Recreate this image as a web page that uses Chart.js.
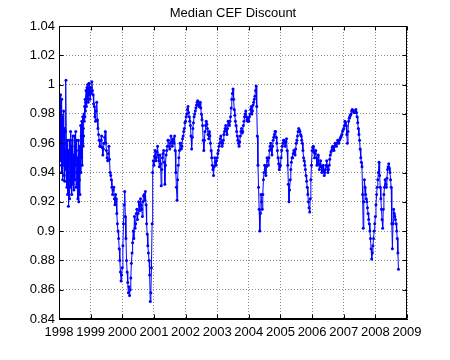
<!DOCTYPE html>
<html>
<head>
<meta charset="utf-8">
<script src="https://cdn.jsdelivr.net/npm/chart.js@4/dist/chart.umd.min.js"></script>
<style>
    body { margin: 0; background: #fff; }
    canvas { display: block; }
</style>
</head>
<body>
<canvas id="chart" width="450" height="360"></canvas>
<script>
const chartTitle = 'Median CEF Discount';

// ticks
const xTicks = [1998, 1999, 2000, 2001, 2002, 2003, 2004, 2005, 2006, 2007, 2008, 2009];
const yTicks = [0.84, 0.86, 0.88, 0.90, 0.92, 0.94, 0.96, 0.98, 1.00, 1.02, 1.04];

// samples are spread evenly over each year (1998 twice a week, later years weekly)
const years = [1998, 1999, 2000, 2001, 2002, 2003, 2004, 2005, 2006, 2007, 2008];
const samplesPerYear = [104, 52, 52, 52, 52, 52, 52, 52, 52, 52, 52];

const d1998 = [0.950, 0.972, 0.945, 0.985, 0.962, 0.993, 0.948, 0.975, 0.940, 0.990,
    0.958, 0.978, 0.935, 0.965, 0.945, 0.982, 0.952, 0.938, 0.970, 0.934,
    0.955, 0.968, 0.942, 1.003, 0.960, 0.950, 0.930, 0.962, 0.925, 0.945,
    0.955, 0.917, 0.948, 0.935, 0.962, 0.922, 0.950, 0.940, 0.968, 0.930,
    0.958, 0.938, 0.925, 0.962, 0.945, 0.932, 0.965, 0.940, 0.952, 0.928,
    0.950, 0.965, 0.935, 0.958, 0.945, 0.968, 0.930, 0.955, 0.940, 0.962,
    0.932, 0.950, 0.922, 0.948, 0.962, 0.920, 0.945, 0.935, 0.958, 0.925,
    0.955, 0.972, 0.940, 0.965, 0.950, 0.975, 0.945, 0.962, 0.978, 0.958,
    0.970, 0.965, 0.980, 0.975, 0.985, 0.978, 0.990, 0.982, 0.988, 0.996,
    0.985, 0.992, 0.998, 0.990, 1.000, 0.994, 0.988, 0.997, 0.995, 1.001, 0.993, 0.998, 0.990, 0.996];
const d1999 = [0.998, 0.994, 1.002, 0.996, 0.993, 0.987, 0.985, 0.978, 0.975, 0.982,
    0.988, 0.976, 0.970, 0.966, 0.962, 0.958, 0.958, 0.962, 0.965, 0.957,
    0.952, 0.956, 0.960, 0.964, 0.968, 0.960, 0.955, 0.950, 0.948, 0.953,
    0.958, 0.949, 0.940, 0.938, 0.935, 0.930, 0.925, 0.928, 0.930, 0.922,
    0.918, 0.925, 0.922, 0.912, 0.905, 0.900, 0.895, 0.888, 0.880, 0.872, 0.866, 0.870];
const d2000 = [0.875, 0.890, 0.905, 0.918, 0.927, 0.910, 0.895, 0.880, 0.872, 0.865,
    0.858, 0.862, 0.856, 0.860, 0.868, 0.878, 0.885, 0.892, 0.900, 0.895,
    0.910, 0.902, 0.905, 0.912, 0.915, 0.908, 0.912, 0.920, 0.918, 0.914,
    0.922, 0.918, 0.915, 0.910, 0.920, 0.924, 0.925, 0.921, 0.927, 0.918,
    0.905, 0.898, 0.890, 0.885, 0.880, 0.870, 0.852, 0.858, 0.875, 0.905, 0.940, 0.948];
const d2001 = [0.945, 0.951, 0.955, 0.948, 0.950, 0.954, 0.958, 0.952, 0.948, 0.944,
    0.952, 0.946, 0.931, 0.942, 0.950, 0.953, 0.955, 0.947, 0.932, 0.945,
    0.952, 0.955, 0.958, 0.962, 0.962, 0.958, 0.956, 0.960, 0.965, 0.961,
    0.958, 0.962, 0.963, 0.960, 0.965, 0.955, 0.940, 0.930, 0.921, 0.935,
    0.945, 0.950, 0.955, 0.960, 0.960, 0.956, 0.958, 0.963, 0.965, 0.968, 0.970, 0.974];
const d2002 = [0.975, 0.978, 0.980, 0.983, 0.985, 0.981, 0.978, 0.975, 0.972, 0.965,
    0.956, 0.964, 0.970, 0.974, 0.978, 0.980, 0.982, 0.984, 0.986, 0.988,
    0.989, 0.986, 0.985, 0.987, 0.988, 0.984, 0.980, 0.976, 0.972, 0.962,
    0.955, 0.962, 0.968, 0.972, 0.975, 0.973, 0.970, 0.966, 0.963, 0.968,
    0.965, 0.960, 0.955, 0.950, 0.945, 0.942, 0.938, 0.944, 0.950, 0.947, 0.945, 0.948];
const d2003 = [0.950, 0.953, 0.955, 0.958, 0.960, 0.963, 0.965, 0.961, 0.958, 0.960,
    0.962, 0.966, 0.968, 0.970, 0.972, 0.969, 0.966, 0.970, 0.975, 0.973,
    0.972, 0.975, 0.978, 0.984, 0.990, 0.994, 0.997, 0.990, 0.983, 0.979,
    0.975, 0.972, 0.968, 0.965, 0.962, 0.960, 0.958, 0.961, 0.965, 0.968,
    0.970, 0.967, 0.968, 0.972, 0.975, 0.978, 0.980, 0.982, 0.978, 0.976, 0.975, 0.977];
const d2004 = [0.975, 0.978, 0.980, 0.983, 0.985, 0.980, 0.982, 0.986, 0.988, 0.990,
    0.992, 0.996, 0.999, 0.985, 0.965, 0.945, 0.930, 0.915, 0.900, 0.912,
    0.925, 0.920, 0.915, 0.925, 0.935, 0.940, 0.945, 0.942, 0.938, 0.944,
    0.950, 0.948, 0.945, 0.950, 0.955, 0.958, 0.960, 0.956, 0.952, 0.958,
    0.962, 0.964, 0.966, 0.968, 0.968, 0.964, 0.960, 0.955, 0.950, 0.946, 0.942, 0.944];
const d2005 = [0.945, 0.950, 0.955, 0.958, 0.960, 0.962, 0.962, 0.960, 0.958, 0.961,
    0.963, 0.955, 0.945, 0.932, 0.920, 0.928, 0.935, 0.942, 0.947, 0.950,
    0.950, 0.953, 0.955, 0.954, 0.952, 0.956, 0.960, 0.962, 0.965, 0.968,
    0.970, 0.969, 0.968, 0.966, 0.965, 0.962, 0.960, 0.955, 0.950, 0.948,
    0.945, 0.942, 0.938, 0.934, 0.930, 0.925, 0.920, 0.916, 0.913, 0.922, 0.935, 0.945];
const d2006 = [0.955, 0.957, 0.958, 0.954, 0.950, 0.953, 0.955, 0.950, 0.945, 0.948,
    0.952, 0.946, 0.942, 0.945, 0.948, 0.944, 0.940, 0.943, 0.945, 0.941,
    0.938, 0.940, 0.942, 0.945, 0.948, 0.944, 0.940, 0.942, 0.945, 0.949,
    0.952, 0.954, 0.955, 0.957, 0.958, 0.956, 0.955, 0.958, 0.960, 0.959,
    0.958, 0.960, 0.962, 0.961, 0.960, 0.962, 0.963, 0.964, 0.965, 0.966, 0.968, 0.969];
const d2007 = [0.970, 0.972, 0.975, 0.974, 0.972, 0.966, 0.960, 0.968, 0.975, 0.977,
    0.978, 0.979, 0.980, 0.982, 0.983, 0.982, 0.982, 0.981, 0.981, 0.982,
    0.983, 0.981, 0.978, 0.974, 0.970, 0.966, 0.962, 0.956, 0.950, 0.947,
    0.944, 0.925, 0.902, 0.920, 0.935, 0.930, 0.925, 0.922, 0.920, 0.916,
    0.912, 0.908, 0.905, 0.900, 0.895, 0.888, 0.881, 0.885, 0.890, 0.895, 0.900, 0.905];
const d2008 = [0.910, 0.918, 0.925, 0.930, 0.935, 0.940, 0.947, 0.938, 0.930, 0.922,
    0.915, 0.908, 0.902, 0.915, 0.925, 0.930, 0.935, 0.932, 0.930, 0.936,
    0.942, 0.944, 0.946, 0.943, 0.940, 0.935, 0.930, 0.905, 0.888, 0.905,
    0.915, 0.912, 0.910, 0.908, 0.905, 0.900, 0.895, 0.885, 0.874];

const series = [d1998, d1999, d2000, d2001, d2002, d2003, d2004, d2005, d2006, d2007, d2008];

const FONT = 'Arial, "Liberation Sans", Helvetica, sans-serif';

var points = [];
years.forEach((yr, i) => {
    series[i].forEach((v, k) => {
        points.push({ x: yr + k / samplesPerYear[i], y: v });
    });
});

// MATLAB style box with inward ticks on all four sides, title centred over the axes
const boxPlugin = {
    id: 'box',
    afterDraw(chart) {
        const ctx = chart.ctx;
        const a = chart.chartArea;
        const xs = chart.scales.x;
        const ys = chart.scales.y;
        const L = Math.round(a.left) + 0.5, R = Math.round(a.right) - 0.5;
        const T = Math.round(a.top) + 0.5, B = Math.round(a.bottom) - 0.5;
        ctx.save();
        ctx.strokeStyle = '#000';
        ctx.lineWidth = 1;
        ctx.strokeRect(L, T, R - L, B - T);
        ctx.beginPath();
        xTicks.forEach(v => {
            const px = Math.round(xs.getPixelForValue(v)) + 0.5;
            ctx.moveTo(px, B); ctx.lineTo(px, B - 4);
            ctx.moveTo(px, T); ctx.lineTo(px, T + 4);
        });
        yTicks.forEach(v => {
            const py = Math.round(ys.getPixelForValue(v)) + 0.5;
            ctx.moveTo(L, py); ctx.lineTo(L + 4, py);
            ctx.moveTo(R, py); ctx.lineTo(R - 4, py);
        });
        ctx.stroke();

        ctx.fillStyle = '#000';
        ctx.font = '13px ' + FONT;
        ctx.textAlign = 'center';
        ctx.textBaseline = 'middle';
        ctx.fillText(chartTitle, (a.left + a.right) / 2, 13);
        ctx.restore();
    }
};

const config = {
    type: 'line',
    data: {
        datasets: [
            {
                label: chartTitle,
                data: points,
                borderColor: '#0000ff',
                backgroundColor: '#0000ff',
                borderWidth: 1,
                pointRadius: 1.5,
                pointBorderWidth: 0,
                pointBackgroundColor: '#0000ff',
                tension: 0
            }
        ]
    },
    options: {
        responsive: false,
        animation: false,
        layout: {
            padding: { left: 0, right: 43, top: 26, bottom: 0 }
        },
        plugins: {
            legend: { display: false },
            tooltip: { enabled: false },
            title: { display: false }
        },
        scales: {
            x: {
                type: 'linear',
                min: 1998,
                max: 2009,
                afterBuildTicks: (axis) => {
                    axis.ticks = xTicks.map(v => ({ value: v }));
                },
                afterFit: (axis) => {
                    axis.height = 41;
                },
                ticks: {
                    autoSkip: false,
                    maxRotation: 0,
                    color: '#000',
                    padding: 6,
                    font: { family: FONT, size: 13 },
                    callback: (v) => String(v)
                },
                grid: {
                    color: 'rgba(0,0,0,0.45)',
                    drawTicks: false
                },
                border: { display: true, color: '#000', dash: [1, 2] }
            },
            y: {
                min: 0.84,
                max: 1.04,
                afterBuildTicks: (axis) => {
                    axis.ticks = yTicks.map(v => ({ value: v }));
                },
                afterFit: (axis) => {
                    axis.width = 59;
                },
                ticks: {
                    color: '#000',
                    padding: 4,
                    font: { family: FONT, size: 13 },
                    callback: (v) => String(+v.toFixed(2))
                },
                grid: {
                    color: 'rgba(0,0,0,0.45)',
                    drawTicks: false
                },
                border: { display: true, color: '#000', dash: [1, 2] }
            }
        }
    },
    plugins: [boxPlugin]
};

new Chart(document.getElementById('chart').getContext('2d'), config);
</script>
</body>
</html>
